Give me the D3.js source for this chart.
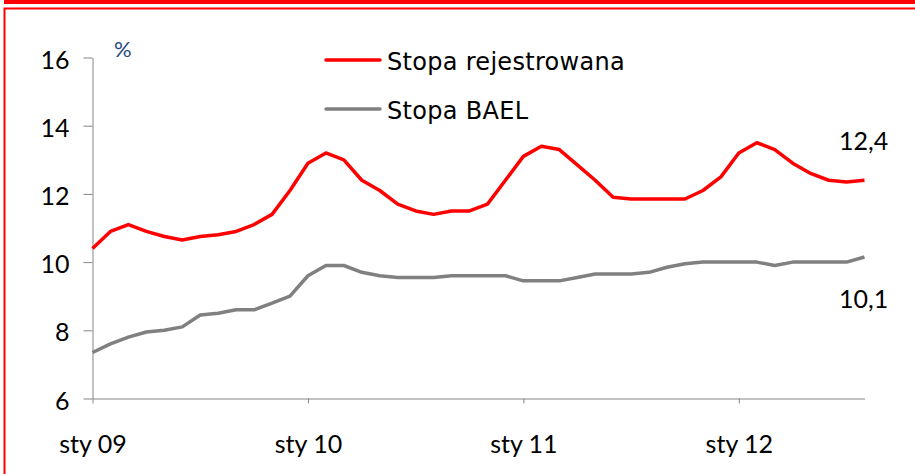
<!DOCTYPE html>
<html>
<head>
<meta charset="utf-8">
<script src="https://cdn.jsdelivr.net/npm/d3@7"></script>
<style>
  body { margin: 0; background: #fff; }
  text { font-family: Lato, "Open Sans", sans-serif; }
  text.legenda { font-family: "DejaVu Sans", Verdana, sans-serif; letter-spacing: 0.3px; }
</style>
</head>
<body>
<svg id="chart" width="915" height="474"></svg>
<script>
// Dane: miesiace od sty 09 do sie 12
var miesiace = d3.range(44);
var etykietyLat = ["sty 09", "sty 10", "sty 11", "sty 12"];
var pozycjeLat = [0, 12, 24, 36];
var tickiY = [6, 8, 10, 12, 14, 16];

var stopaRejestrowana = [
    10.4, 10.9, 11.1, 10.9, 10.75, 10.65, 10.75, 10.8, 10.9, 11.1, 11.4, 12.1,
    12.9, 13.2, 13.0, 12.4, 12.1, 11.7, 11.5, 11.4, 11.5, 11.5, 11.7, 12.4,
    13.1, 13.4, 13.3, 12.85, 12.4, 11.9, 11.85, 11.85, 11.85, 11.85, 12.1, 12.5,
    13.2, 13.5, 13.3, 12.9, 12.6, 12.4, 12.35, 12.4
];
var stopaBAEL = [
    7.35, 7.6, 7.8, 7.95, 8.0, 8.1, 8.45, 8.5, 8.6, 8.6, 8.8, 9.0,
    9.6, 9.9, 9.9, 9.7, 9.6, 9.55, 9.55, 9.55, 9.6, 9.6, 9.6, 9.6,
    9.45, 9.45, 9.45, 9.55, 9.65, 9.65, 9.65, 9.7, 9.85, 9.95, 10.0, 10.0,
    10.0, 10.0, 9.9, 10.0, 10.0, 10.0, 10.0, 10.15
];

var svg = d3.select("#chart");

// ramka
svg.append("rect")
    .attr("x", 4).attr("y", 0)
    .attr("width", 911).attr("height", 4)
    .attr("fill", "#ff0000");
svg.append("path")
    .attr("d", "M4.5,474V8.5H915")
    .attr("fill", "none")
    .attr("stroke", "#ff0000")
    .attr("stroke-width", 2);

var x = d3.scaleLinear().domain([0, 43]).range([92.5, 864.5]);
var y = d3.scaleLinear().domain([6, 16]).range([398.5, 57.5]);

// os Y
var osY = svg.append("g")
    .attr("transform", "translate(92.5,0)")
    .call(d3.axisLeft(y).tickValues(tickiY).tickSize(9).tickPadding(14).tickSizeOuter(0));
osY.select(".domain").attr("stroke", "#868686");
osY.selectAll(".tick line").attr("stroke", "#868686");
osY.selectAll(".tick text")
    .attr("font-size", "25px")
    .attr("fill", "#000")
    .attr("dy", "0.42em");

// os X
var osX = svg.append("g")
    .attr("transform", "translate(0,398.5)")
    .call(d3.axisBottom(x).tickValues(pozycjeLat).tickSize(5).tickPadding(32).tickSizeOuter(0)
        .tickFormat(function (d, i) { return etykietyLat[i]; }));
osX.select(".domain").attr("stroke", "#868686");
osX.selectAll(".tick line").attr("stroke", "#868686");
osX.selectAll(".tick text")
    .attr("font-size", "25px")
    .attr("fill", "#000");

// linie
var linia = function (dane) {
    return d3.line()
        .x(function (d, i) { return x(i); })
        .y(function (d) { return y(d); })(dane);
};
svg.append("path")
    .attr("d", linia(stopaBAEL))
    .attr("fill", "none")
    .attr("stroke", "#808080")
    .attr("stroke-width", 3.5)
    .attr("stroke-linejoin", "round");
svg.append("path")
    .attr("d", linia(stopaRejestrowana))
    .attr("fill", "none")
    .attr("stroke", "#ff0000")
    .attr("stroke-width", 3.5)
    .attr("stroke-linejoin", "round");

// jednostka
svg.append("text")
    .attr("x", 114).attr("y", 57)
    .attr("font-size", "22px")
    .attr("fill", "#1f497d")
    .text("%");

// legenda
var legenda = [
    { nazwa: "Stopa rejestrowana", kolor: "#ff0000" },
    { nazwa: "Stopa BAEL", kolor: "#808080" }
];
legenda.forEach(function (d, i) {
    svg.append("line")
        .attr("x1", 326).attr("x2", 380)
        .attr("y1", 60 + i * 49).attr("y2", 60 + i * 49)
        .attr("stroke", d.kolor)
        .attr("stroke-width", 3.5)
        .attr("stroke-linecap", "round");
    svg.append("text")
        .attr("class", "legenda")
        .attr("x", 387).attr("y", 70 + i * 49)
        .attr("font-size", "24px")
        .attr("fill", "#000")
        .text(d.nazwa);
});

// etykiety ostatnich wartosci
svg.append("text")
    .attr("x", 839).attr("y", 150)
    .attr("font-size", "25px")
    .text(d3.format(".1f")(stopaRejestrowana[43]).replace(".", ","));
svg.append("text")
    .attr("x", 839).attr("y", 308)
    .attr("font-size", "25px")
    .text("10,1");
</script>
</body>
</html>
